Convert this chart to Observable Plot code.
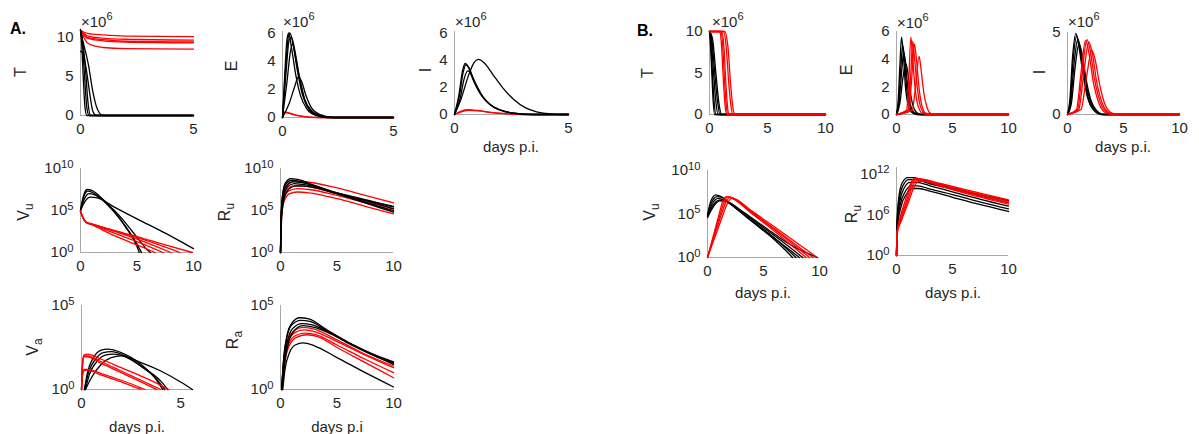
<!DOCTYPE html>
<html><head><meta charset="utf-8">
<script src="https://cdn.jsdelivr.net/npm/d3@7"></script>
<script src="https://cdn.jsdelivr.net/npm/@observablehq/plot@0.6"></script>
<style>
html,body{margin:0;padding:0;background:#fff;}
#chart{position:relative;width:1199px;height:434px;overflow:hidden;background:#fff;}
#chart svg{position:absolute;}
</style></head><body><div id="chart"></div>
<script>
// ---------- DATA (x = days p.i.; linear panels in units of 1e6; log panels as log10 exponents) ----------
// Panel A, T
const aT_k = [
 [[0,11],[0.05,9.2],[0.12,5],[0.2,1],[0.28,0],[5,0]],
 [[0,10.9],[0.08,9.5],[0.18,5],[0.28,1],[0.38,0],[5,0]],
 [[0,10.8],[0.1,9.5],[0.22,6],[0.32,2],[0.45,0],[5,0]],
 [[0,8.2],[0.1,8],[0.25,6],[0.4,3],[0.55,0.5],[0.7,0],[5,0]],
 [[0,10.5],[0.15,9],[0.35,6.5],[0.55,3],[0.75,0.8],[1.0,0],[5,0]]
];
const aT_r = [
 [[0,10.9],[0.3,10.5],[1,10.3],[2,10.15],[5,10.1]],
 [[0,10.9],[0.3,10.2],[1,9.9],[2,9.75],[5,9.65]],
 [[0,10.9],[0.3,10.0],[1,9.7],[2,9.5],[5,9.4]],
 [[0,10.9],[0.3,9.9],[1,9.55],[2,9.4],[5,9.3]],
 [[0,10.9],[0.3,9.3],[0.6,8.9],[1,8.7],[2,8.55],[5,8.5]]
];
// Panel A, E
const aE_k = [
 [[0,0],[0.1,3],[0.2,5.5],[0.28,6],[0.4,5],[0.6,3],[0.8,1.6],[1.1,0.6],[1.5,0.15],[2,0],[5,0]],
 [[0,0],[0.12,3],[0.25,5.6],[0.33,6],[0.45,5.4],[0.65,3.5],[0.9,1.6],[1.2,0.6],[1.6,0.15],[2.2,0],[5,0]],
 [[0,0],[0.15,3],[0.3,5.5],[0.4,5.7],[0.55,4.8],[0.75,3],[1,1.3],[1.3,0.5],[1.8,0.1],[2.3,0],[5,0]],
 [[0,0],[0.2,2.5],[0.35,4.6],[0.45,5.2],[0.6,4.2],[0.8,2.5],[1.05,1],[1.4,0.3],[2,0],[5,0]],
 [[0,0],[0.3,1],[0.55,2.2],[0.72,2.9],[0.85,2.6],[1.05,1.6],[1.3,0.7],[1.7,0.2],[2.3,0],[5,0]]
];
const aE_r = [
 [[0,0],[0.1,0.4],[0.3,0.32],[0.6,0.17],[1,0.06],[1.6,0],[5,0]],
 [[0,0],[0.12,0.35],[0.35,0.28],[0.7,0.13],[1.1,0.04],[1.7,0],[5,0]]
];
// Panel A, I
const aI_k = [
 [[0,0],[0.2,1.5],[0.35,3.2],[0.47,3.75],[0.6,3.5],[0.8,2.6],[1.1,1.6],[1.5,0.8],[2,0.35],[2.5,0.12],[3,0.03],[3.5,0],[5,0]],
 [[0,0],[0.22,1.4],[0.38,3.1],[0.5,3.65],[0.65,3.4],[0.85,2.5],[1.15,1.5],[1.55,0.75],[2.05,0.3],[2.6,0.1],[3.2,0],[5,0]],
 [[0,0],[0.25,1.2],[0.42,2.6],[0.58,3.2],[0.75,2.9],[0.95,2.2],[1.25,1.3],[1.65,0.6],[2.2,0.22],[2.8,0.06],[3.4,0],[5,0]],
 [[0,0],[0.3,1.2],[0.6,2.8],[0.85,3.8],[1.05,4.05],[1.3,3.8],[1.7,2.9],[2.1,2],[2.6,1.1],[3.1,0.5],[3.6,0.2],[4.2,0.05],[4.7,0],[5,0]]
];
const aI_r = [
 [[0,0],[0.3,0.25],[0.6,0.35],[1,0.3],[1.5,0.18],[2,0.09],[2.6,0.03],[3.2,0],[5,0]],
 [[0,0],[0.3,0.2],[0.65,0.3],[1.05,0.27],[1.55,0.16],[2.1,0.08],[2.7,0.02],[3.3,0],[5,0]]
];
// Panel A, Vu (log10)
const aVu_k = [
 [[0,5],[0.3,6.9],[0.6,7.5],[1,7.4],[2,6.3],[3,4.8],[4,3],[5,0.7],[5.2,0]],
 [[0,5],[0.3,6.7],[0.65,7.3],[1,7.2],[2,6.2],[3,4.8],[4,3.1],[5,1.0],[5.4,0]],
 [[0,5],[0.35,6.4],[0.75,7.0],[1.2,6.9],[2,6.2],[3,5],[4,3.5],[5,1.8],[6,0.2],[6.2,0]],
 [[0,5],[0.4,6.1],[0.9,6.6],[1.5,6.5],[3,5.4],[5,4.0],[7.5,2.3],[10,0.45]]
];
const aVu_r = [
 [[0,4.9],[0.2,4.2],[0.5,3.6],[1,3.3],[3,2.0],[5,0.9],[6.6,0]],
 [[0,4.9],[0.2,4.2],[0.5,3.6],[1,3.35],[3,2.3],[5,1.3],[7.3,0]],
 [[0,4.9],[0.2,4.2],[0.5,3.6],[1,3.4],[3,2.5],[5,1.6],[8,0]],
 [[0,4.9],[0.2,4.2],[0.5,3.6],[1,3.4],[3,2.6],[5,1.8],[8.8,0]],
 [[0,4.9],[0.2,4.2],[0.5,3.55],[1,3.35],[3,2.6],[5,1.9],[7.5,0.9],[9.9,0]]
];
// Panel A, Ru (log10)
const aRu_k = [
 [[0,0],[0.05,4],[0.15,6.5],[0.4,8.2],[0.9,8.8],[1.5,8.7],[3,8.0],[5,7.0],[7.5,5.9],[10,4.8]],
 [[0,0],[0.05,4],[0.15,6.3],[0.4,8],[1,8.6],[1.6,8.5],[3,7.9],[5,7.0],[7.5,6.0],[10,5.0]],
 [[0,0],[0.06,4],[0.2,6.5],[0.5,7.9],[1.1,8.4],[2,8.3],[5,7.1],[7.5,6.2],[10,5.2]],
 [[0,0],[0.08,4],[0.25,6.5],[0.6,7.8],[1.2,8.2],[2,8.1],[5,7.1],[7.5,6.3],[10,5.4]],
 [[0,0],[0.1,4],[0.3,6.3],[0.7,7.5],[1.3,7.9],[2,7.9],[5,7.0],[7.5,6.2],[10,5.5]]
];
const aRu_r = [
 [[0,0],[0.05,4],[0.2,6.5],[0.6,8],[1.3,8.5],[2,8.45],[5,7.7],[7.5,6.8],[10,5.9]],
 [[0,0],[0.05,4],[0.2,6.3],[0.6,7.6],[1.4,8.0],[2.2,7.9],[5,7.0],[7.5,6.1],[10,5.2]],
 [[0,0],[0.06,4],[0.25,6.2],[0.7,7.3],[1.5,7.6],[2.5,7.5],[5,6.8],[7.5,5.9],[10,4.9]],
 [[0,0],[0.06,4],[0.3,6],[0.8,7.0],[1.5,7.2],[2.5,7.1],[5,6.4],[7.5,5.5],[10,4.6]]
];
// Panel A, Va (log10)
const aVa_k = [
 [[0.15,0],[0.3,1],[0.6,1.9],[1.0,2.35],[1.3,2.4],[2,2.2],[3,1.5],[3.7,0.7],[4.1,0]],
 [[0.15,0],[0.35,1],[0.7,1.8],[1.1,2.2],[1.5,2.25],[2.2,2.0],[3,1.4],[3.8,0.6],[4.2,0]],
 [[0.2,0],[0.4,0.9],[0.8,1.7],[1.2,2.05],[1.6,2.1],[2.3,1.9],[3.1,1.3],[4,0.5],[4.35,0]],
 [[0.2,0],[0.5,0.7],[1,1.5],[1.5,1.9],[2,2.0],[3,1.6],[4,1.1],[5,0.45],[5.6,0]]
];
const aVa_r = [
 [[0,0],[0.05,1.5],[0.12,2.05],[0.3,2.1],[1,1.8],[2,1.3],[3,0.8],[4,0.25],[4.4,0]],
 [[0,0],[0.05,1.5],[0.12,2.0],[0.3,2.0],[1,1.65],[2,1.1],[3,0.55],[4,0]],
 [[0,0],[0.05,1.4],[0.12,1.95],[0.3,1.95],[1,1.55],[2,1.0],[3,0.45],[3.8,0]],
 [[0,0],[0.05,0.8],[0.12,1.1],[0.3,1.15],[1,0.85],[2,0.45],[2.9,0.05],[3,0]],
 [[0,0],[0.05,0.9],[0.12,1.2],[0.3,1.2],[1,0.95],[2,0.55],[3,0.1],[3.2,0]]
];
// Panel A, Ra (log10)
const aRa_k = [
 [[0.1,0],[0.3,2],[0.6,3.3],[1,3.95],[1.7,4.27],[2.5,4.2],[4,3.6],[6,2.8],[8,2.15],[10,1.6]],
 [[0.1,0],[0.3,1.9],[0.6,3.2],[1,3.85],[1.8,4.12],[2.6,4.05],[4,3.55],[6,2.8],[8,2.1],[10,1.55]],
 [[0.15,0],[0.35,1.8],[0.7,3.1],[1.1,3.65],[1.9,3.92],[2.8,3.85],[4,3.5],[6,2.75],[8,2.1],[10,1.5]],
 [[0.15,0],[0.4,1.7],[0.75,2.9],[1.2,3.5],[2,3.8],[3,3.7],[4.5,3.3],[6,2.8],[8,2.15],[10,1.65]],
 [[0.2,0],[0.4,1.2],[0.8,2.2],[1.3,2.65],[2,2.77],[3,2.6],[5,1.9],[7.5,1.0],[10,0.15]]
];
const aRa_r = [
 [[0.1,0],[0.3,1.8],[0.7,3.0],[1.2,3.5],[2,3.7],[3,3.6],[5,2.95],[7.5,2.1],[10,1.4]],
 [[0.1,0],[0.3,1.7],[0.7,2.9],[1.3,3.4],[2.1,3.55],[3,3.45],[5,2.85],[7.5,2.05],[10,1.3]],
 [[0.1,0],[0.35,1.6],[0.75,2.75],[1.3,3.2],[2.2,3.35],[3.2,3.25],[5,2.65],[7.5,1.8],[10,1.0]],
 [[0.1,0],[0.35,1.5],[0.8,2.65],[1.4,3.1],[2.3,3.26],[3.3,3.15],[5,2.5],[7.5,1.6],[10,0.7]]
];
// Panel B, T
const bT_k = [
 [[0,10],[0.1,8],[0.2,5],[0.3,2],[0.45,0],[10,0]],
 [[0,10],[0.12,8.5],[0.25,5],[0.4,1.5],[0.55,0],[10,0]],
 [[0,10],[0.15,9],[0.35,5],[0.55,1.5],[0.75,0],[10,0]],
 [[0,10],[0.2,9],[0.45,5],[0.7,1.5],[0.9,0],[10,0]],
 [[0,10],[0.25,9.2],[0.55,5],[0.8,1.5],[1.05,0],[10,0]]
];
const bT_r = [
 [[0,10],[0.9,10],[1.05,8],[1.2,4],[1.35,1],[1.5,0],[10,0]],
 [[0,10],[1.0,10],[1.15,8],[1.3,4],[1.45,1],[1.6,0],[10,0]],
 [[0,10],[1.05,10],[1.25,8],[1.4,4],[1.55,1],[1.7,0],[10,0]],
 [[0,10],[1.2,10],[1.45,8],[1.65,4],[1.85,1],[2.0,0],[10,0]],
 [[0,10],[1.3,10],[1.6,8],[1.8,4],[2.0,1],[2.2,0],[10,0]]
];
// Panel B, E
const bE_k = [
 [[0,0],[0.15,1],[0.3,3.5],[0.45,5.6],[0.6,4.5],[0.8,2],[1.0,0.8],[1.3,0.2],[1.8,0],[10,0]],
 [[0,0],[0.2,1],[0.4,3.5],[0.55,5.0],[0.7,4.2],[0.9,2],[1.1,0.8],[1.4,0.2],[1.9,0],[10,0]],
 [[0,0],[0.25,1],[0.45,3],[0.65,4.5],[0.8,3.8],[1,2],[1.25,0.7],[1.6,0.15],[2.1,0],[10,0]],
 [[0,0],[0.3,0.8],[0.55,2.5],[0.83,3.7],[1.0,3.1],[1.2,1.8],[1.45,0.7],[1.8,0.15],[2.2,0],[10,0]]
];
const bE_r = [
 [[0,0],[0.9,0.3],[1.1,2.5],[1.28,5.6],[1.45,4],[1.65,2],[1.9,0.7],[2.3,0.1],[2.8,0],[10,0]],
 [[0,0],[1.0,0.3],[1.25,2.5],[1.45,5.3],[1.62,4],[1.85,2],[2.1,0.7],[2.5,0.1],[3,0],[10,0]],
 [[0,0],[1.1,0.3],[1.35,2.5],[1.6,5.1],[1.78,4],[2.0,2],[2.25,0.7],[2.6,0.1],[3.1,0],[10,0]],
 [[0,0],[1.4,0.3],[1.7,2],[2.02,4.2],[2.2,3.2],[2.45,1.5],[2.7,0.6],[3.0,0.1],[3.4,0],[10,0]]
];
// Panel B, I
const bI_k = [
 [[0,0],[0.2,0.8],[0.45,3.5],[0.75,4.95],[1.0,4.2],[1.4,2.4],[1.8,1.0],[2.3,0.3],[3.0,0],[10,0]],
 [[0,0],[0.25,0.8],[0.5,3.3],[0.82,4.8],[1.1,4.0],[1.5,2.2],[1.9,0.9],[2.4,0.25],[3.1,0],[10,0]],
 [[0,0],[0.3,0.8],[0.6,3.2],[0.92,4.6],[1.2,3.9],[1.6,2.1],[2.0,0.9],[2.5,0.25],[3.2,0],[10,0]],
 [[0,0],[0.35,0.7],[0.7,3.0],[1.02,4.3],[1.3,3.7],[1.7,2.0],[2.1,0.85],[2.6,0.25],[3.3,0],[10,0]]
];
const bI_r = [
 [[0,0],[0.8,0.3],[1.2,2.5],[1.6,4.5],[1.9,3.8],[2.3,2.0],[2.8,0.7],[3.3,0.15],[4,0],[10,0]],
 [[0,0],[0.9,0.3],[1.3,2.5],[1.73,4.57],[2.0,4.0],[2.4,2.2],[2.9,0.8],[3.4,0.2],[4.1,0],[10,0]],
 [[0,0],[1.0,0.3],[1.45,2.5],[1.9,4.43],[2.2,3.8],[2.6,2.0],[3.1,0.7],[3.6,0.15],[4.2,0],[10,0]],
 [[0,0],[1.2,0.3],[1.7,2.3],[2.17,3.92],[2.45,3.4],[2.85,1.9],[3.3,0.7],[3.8,0.15],[4.4,0],[10,0]]
];
// Panel B, Vu (log10)
const bVu_k = [
 [[0,4.9],[0.3,6.5],[0.75,7.2],[1.2,7.0],[2,6.2],[4,4.1],[6,2.0],[7.6,0]],
 [[0,4.8],[0.35,6.3],[0.85,7.0],[1.3,6.9],[2,6.2],[4,4.2],[6,2.2],[7.9,0]],
 [[0,4.7],[0.4,6.1],[0.95,6.8],[1.5,6.6],[2.5,5.7],[4.5,3.7],[6.5,1.7],[8.2,0]],
 [[0,4.6],[0.45,5.9],[1.05,6.6],[1.6,6.5],[2.5,5.8],[4.5,3.9],[6.5,2.0],[8.5,0]],
 [[0,4.6],[0.5,5.8],[1.1,6.5],[1.8,6.4],[3,5.4],[5,3.6],[7.5,1.4],[9.8,0]]
];
const bVu_r = [
 [[0,0],[0.5,2.4],[1.0,4.8],[1.4,6.6],[1.7,7.0],[2.2,6.8],[4,5.0],[6,3.0],[8.8,0]],
 [[0,0],[0.55,2.4],[1.1,4.8],[1.55,6.6],[1.85,7.0],[2.3,6.8],[4,5.1],[6,3.2],[9.1,0]],
 [[0,0],[0.6,2.4],[1.2,4.8],[1.7,6.5],[2.0,6.9],[2.5,6.7],[4,5.2],[6,3.3],[9.4,0]],
 [[0,0],[0.65,2.3],[1.3,4.6],[1.85,6.4],[2.15,6.8],[2.6,6.6],[4,5.3],[6,3.5],[9.8,0]]
];
// Panel B, Ru (log10)
const bRu_k = [
 [[0,0],[0.05,5],[0.2,8.5],[0.5,10.7],[1.0,11.5],[1.5,11.5],[3,10.8],[5,10],[7.5,9],[10,8.1]],
 [[0,0],[0.05,4.8],[0.25,8.3],[0.6,10.4],[1.1,11.2],[1.6,11.2],[3,10.6],[5,9.8],[7.5,8.8],[10,7.8]],
 [[0,0],[0.06,4.6],[0.3,8],[0.7,10],[1.2,10.8],[1.8,10.8],[3,10.3],[5,9.4],[7.5,8.3],[10,7.3]],
 [[0,0],[0.07,4.4],[0.35,7.6],[0.8,9.5],[1.3,10.3],[1.9,10.3],[3,9.8],[5,9],[7.5,7.9],[10,6.9]],
 [[0,0],[0.08,4.2],[0.4,7.2],[0.9,9.1],[1.4,9.9],[2,9.9],[3,9.5],[5,8.6],[7.5,7.5],[10,6.5]]
];
const bRu_r = [
 [[0,0],[0.05,3.5],[0.3,5.5],[0.8,8.2],[1.3,10.8],[1.6,11.4],[2.2,11.3],[4,10.6],[7,9.4],[10,8.2]],
 [[0,0],[0.05,3.4],[0.35,5.4],[0.9,8.1],[1.4,10.7],[1.75,11.3],[2.4,11.2],[4,10.5],[7,9.2],[10,8.0]],
 [[0,0],[0.05,3.3],[0.4,5.3],[1.0,8.1],[1.5,10.5],[1.9,11.1],[2.5,11],[4,10.3],[7,9.0],[10,7.8]],
 [[0,0],[0.05,3.2],[0.45,5.2],[1.1,8.0],[1.65,10.4],[2.1,11.0],[2.7,10.9],[4,10.2],[7,8.8],[10,7.6]]
];
// Tick values
const ticks5 = [0,5], ticks10 = [0,5,10];
const ticksT = [0,5,10], ticksE = [0,2,4,6], ticksI5 = [0,5];
const ticksLog10 = [1,1e5,1e10], ticksLog5 = [1,1e5], ticksLog12 = [1,1e6,1e12];
const xLabel = "days p.i.", xLabelRa = "days p.i";

// ---------- LAYOUT ----------
const FONT = "'Liberation Sans', Arial, Helvetica, sans-serif";
const AXIS = "#a8a8a8", TXT = "#262626";
const chart = document.getElementById("chart");

const panels = [
 {left:80, right:193, top:29, bottom:115, xd:[0,5], xt:ticks5, yd:[0,11], yt:ticksT, sets:[[aT_r,"#ff0000"],[aT_k,"#000"]]},
 {left:282, right:393, top:31, bottom:117, xd:[0,5], xt:ticks5, yd:[0,6.1], yt:ticksE, sets:[[aE_r,"#ff0000"],[aE_k,"#000"]]},
 {left:454, right:568, top:31, bottom:114, xd:[0,5], xt:ticks5, yd:[0,6.1], yt:ticksE, sets:[[aI_r,"#ff0000"],[aI_k,"#000"]]},
 {left:80, right:193, top:168, bottom:252, xd:[0,10], xt:ticks10, yd:[1,1e10], yt:ticksLog10, log:true, sets:[[aVu_k,"#000"],[aVu_r,"#ff0000"]]},
 {left:280, right:393, top:168, bottom:252, xd:[0,10], xt:ticks10, yd:[1,1e10], yt:ticksLog10, log:true, sets:[[aRu_r,"#ff0000"],[aRu_k,"#000"]]},
 {left:81, right:193, top:305, bottom:389, xd:[0,5.65], xt:ticks5, yd:[1,1e5], yt:ticksLog5, log:true, sets:[[aVa_k,"#000"],[aVa_r,"#ff0000"]]},
 {left:280, right:393, top:305, bottom:389, xd:[0,10], xt:ticks10, yd:[1,1e5], yt:ticksLog5, log:true, sets:[[aRa_r,"#ff0000"],[aRa_k,"#000"]]},
 {left:709, right:825, top:31, bottom:114, xd:[0,10], xt:ticks10, yd:[0,10], yt:ticksT, sets:[[bT_k,"#000"],[bT_r,"#ff0000"]]},
 {left:896, right:1008, top:31, bottom:114, xd:[0,10], xt:ticks10, yd:[0,6], yt:ticksE, sets:[[bE_k,"#000"],[bE_r,"#ff0000"]]},
 {left:1067, right:1179, top:32, bottom:114, xd:[0,10], xt:ticks10, yd:[0,5], yt:ticksI5, sets:[[bI_k,"#000"],[bI_r,"#ff0000"]]},
 {left:707, right:819, top:170, bottom:257, xd:[0,10], xt:ticks10, yd:[1,1e10], yt:ticksLog10, log:true, sets:[[bVu_k,"#000"],[bVu_r,"#ff0000"]]},
 {left:896, right:1008, top:167, bottom:255, xd:[0,10], xt:ticks10, yd:[1,1e13], yt:ticksLog12, log:true, sets:[[bRu_k,"#000"],[bRu_r,"#ff0000"]]}
];

const ml = 56, mr = 16, mt = 8, mb = 30;
for (const p of panels) {
  const marks = [
    Plot.ruleX([p.xd[0]], {stroke: AXIS, strokeWidth: 1}),
    Plot.ruleY([p.yd[0]], {stroke: AXIS, strokeWidth: 1}),
    Plot.axisX({ticks: p.xt, tickSize: 0, tickPadding: 8, label: null, tickFormat: d => String(d), fill: TXT}),
    Plot.axisY({ticks: p.yt, tickSize: 0, tickPadding: 7, label: null, fill: TXT,
      tickFormat: p.log ? d => "10^" + Math.round(Math.log10(d)) : d => String(d)})
  ];
  for (const [set, color] of p.sets) {
    const rows = [];
    set.forEach((c, i) => c.forEach(([x, y]) => rows.push({x, y: p.log ? Math.pow(10, y) : y, id: i})));
    marks.push(Plot.line(rows, {x: "x", y: "y", z: "id", stroke: color, strokeWidth: 1.3, curve: "monotone-x"}));
  }
  const svg = Plot.plot({
    width: p.right - p.left + ml + mr, height: p.bottom - p.top + mt + mb,
    marginLeft: ml, marginRight: mr, marginTop: mt, marginBottom: mb,
    style: `background:transparent;overflow:visible;font-family:${FONT};font-size:15px;color:${TXT};max-width:none;`,
    x: {domain: p.xd},
    y: {type: p.log ? "log" : "linear", domain: p.yd},
    marks
  });
  svg.style.left = (p.left - ml) + "px";
  svg.style.top = (p.top - mt) + "px";
  if (p.log) {
    d3.select(svg).selectAll('g[aria-label="y-axis tick label"] text').each(function () {
      const m = this.textContent.match(/^10\^(-?\d+)$/);
      if (!m) return;
      this.textContent = "";
      const s = d3.select(this);
      s.append("tspan").text("10");
      s.append("tspan").attr("dy", "-0.5em").attr("font-size", "0.75em").text(m[1]);
    });
  }
  chart.appendChild(svg);
}

// ---------- TEXT OVERLAY ----------
const ov = d3.select(chart).append("svg").attr("width", 1199).attr("height", 434)
  .style("left", "0px").style("top", "0px").style("font-family", FONT).attr("fill", TXT);

ov.append("text").attr("x", 10).attr("y", 34).attr("font-size", 16).attr("font-weight", "bold").attr("fill", "#000").text("A.");
ov.append("text").attr("x", 637).attr("y", 36).attr("font-size", 16).attr("font-weight", "bold").attr("fill", "#000").text("B.");

// ×10^6 multipliers
for (const [x, y] of [[81, 27], [283, 27], [455, 27], [712, 27], [897, 28], [1068, 27]]) {
  const t = ov.append("text").attr("x", x).attr("y", y).attr("font-size", 15);
  t.append("tspan").text("×10");
  t.append("tspan").attr("dy", -7).attr("font-size", 11).text("6");
}

// rotated y labels: [x baseline, y center, main, subscript]
const ylabels = [
  [26, 72, "T", ""], [237, 66, "E", ""], [431, 70, "I", ""],
  [29, 212, "V", "u"], [230, 212, "R", "u"], [38, 347, "V", "a"], [238, 340, "R", "a"],
  [653, 73, "T", ""], [852, 70, "E", ""], [1045, 72, "I", ""],
  [655, 212, "V", "u"], [857, 214, "R", "u"]
];
for (const [x, y, m, s] of ylabels) {
  const t = ov.append("text").attr("transform", `translate(${x},${y}) rotate(-90)`)
    .attr("text-anchor", "middle").attr("font-size", 16);
  t.append("tspan").text(m);
  if (s) t.append("tspan").attr("dy", 4).attr("font-size", 12).text(s);
}

// x labels
for (const [x, y, s] of [[511, 152, xLabel], [137, 432, xLabel], [337, 432, xLabelRa], [763, 298, xLabel], [953, 298, xLabel], [1123, 152, xLabel]]) {
  ov.append("text").attr("x", x).attr("y", y).attr("text-anchor", "middle").attr("font-size", 15).text(s);
}
</script></body></html>
